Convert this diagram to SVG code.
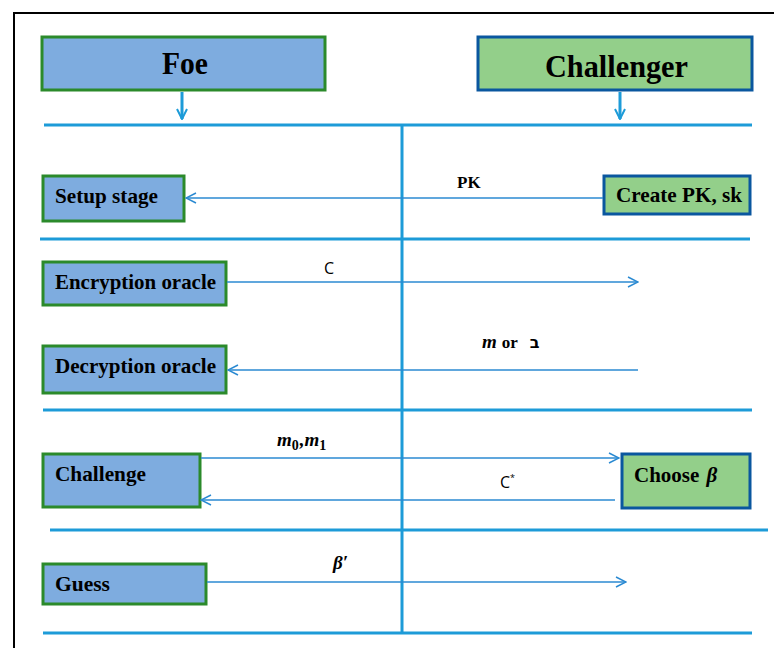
<svg xmlns="http://www.w3.org/2000/svg" width="774" height="648" viewBox="0 0 774 648">
<style>
.foe{fill:#7eacdf;stroke:#2b8a2b;stroke-width:3}
.ch{fill:#93cf8a;stroke:#0a579f;stroke-width:3}
.title{font-family:"Liberation Serif",serif;font-weight:bold;font-size:32px;fill:#000}
.lbl{font-family:"Liberation Serif",serif;font-weight:bold;font-size:21px;fill:#000}
.sep{stroke:#1d9bd8;stroke-width:3;fill:none}
.msg{stroke:#2b8ad2;stroke-width:1.5;fill:none}
.ml{font-family:"Liberation Serif",serif;font-weight:bold;font-size:17px;fill:#000}
.mi{font-family:"Liberation Serif",serif;font-weight:bold;font-style:italic;font-size:19px;fill:#000}
.cs{font-family:"Open Sans","DejaVu Sans",sans-serif;font-size:16px;fill:#000}
</style>
<defs>
<marker id="ah" viewBox="0 0 12 12" refX="11" refY="6" markerWidth="12" markerHeight="12" markerUnits="userSpaceOnUse" orient="auto">
<path d="M1,1 L11,6 L1,11" fill="none" stroke="#2b8ad2" stroke-width="1.5"/>
</marker>
<marker id="ahd" viewBox="0 0 12 12" refX="11" refY="6" markerWidth="12" markerHeight="12" markerUnits="userSpaceOnUse" orient="auto">
<path d="M1,1 L11,6 L1,11" fill="none" stroke="#1d9bd8" stroke-width="2"/>
</marker>
</defs>
<rect x="0" y="0" width="774" height="648" fill="#fff"/>
<rect x="14" y="13" width="800" height="700" fill="none" stroke="#000" stroke-width="2"/>

<g id="foe">
<rect class="foe" x="42" y="37" width="283" height="53"/>
<text class="title" x="162" y="74" textLength="46" lengthAdjust="spacingAndGlyphs">Foe</text>
</g>
<g id="challenger">
<rect class="ch" x="478" y="37" width="274" height="53"/>
<text class="title" x="545" y="77" textLength="143" lengthAdjust="spacingAndGlyphs">Challenger</text>
</g>
<g id="setup">
<rect class="foe" x="43" y="176" width="141" height="45"/>
<text class="lbl" x="55" y="203" textLength="103" lengthAdjust="spacingAndGlyphs">Setup stage</text>
</g>
<g id="create">
<rect class="ch" x="604" y="176" width="146" height="38"/>
<text class="lbl" x="616" y="202" textLength="126" lengthAdjust="spacingAndGlyphs">Create PK, sk</text>
</g>
<g id="enc">
<rect class="foe" x="43" y="262" width="183" height="43"/>
<text class="lbl" x="55" y="289" textLength="161" lengthAdjust="spacingAndGlyphs">Encryption oracle</text>
</g>
<g id="dec">
<rect class="foe" x="43" y="346" width="183" height="47"/>
<text class="lbl" x="55" y="373" textLength="161" lengthAdjust="spacingAndGlyphs">Decryption oracle</text>
</g>
<g id="challenge">
<rect class="foe" x="43" y="454" width="157" height="53"/>
<text class="lbl" x="55" y="481" textLength="91" lengthAdjust="spacingAndGlyphs">Challenge</text>
</g>
<g id="choose">
<rect class="ch" x="622" y="454" width="128" height="54"/>
<text class="lbl" x="634" y="482">Choose <tspan font-style="italic" dx="2">β</tspan></text>
</g>
<g id="guess">
<rect class="foe" x="43" y="564" width="163" height="40"/>
<text class="lbl" x="55" y="591" textLength="55" lengthAdjust="spacingAndGlyphs">Guess</text>
</g>

<g id="connectors">
<line class="sep" x1="182" y1="92" x2="182" y2="119" marker-end="url(#ahd)" stroke-width="2"/>
<line class="sep" x1="620" y1="92" x2="620" y2="119" marker-end="url(#ahd)" stroke-width="2"/>
<line class="sep" x1="44" y1="125" x2="752" y2="125"/>
<line class="sep" x1="402" y1="125" x2="402" y2="633"/>
<line class="sep" x1="40" y1="239" x2="750" y2="239"/>
<line class="sep" x1="43" y1="410" x2="752" y2="410"/>
<line class="sep" x1="50" y1="530" x2="768" y2="530"/>
<line class="sep" x1="43" y1="633" x2="752" y2="633"/>

<line class="msg" x1="603" y1="198" x2="186" y2="198" marker-end="url(#ah)"/>
<line class="msg" x1="227" y1="282" x2="638" y2="282" marker-end="url(#ah)"/>
<line class="msg" x1="638" y1="370" x2="228" y2="370" marker-end="url(#ah)"/>
<line class="msg" x1="201" y1="458" x2="619" y2="458" marker-end="url(#ah)"/>
<line class="msg" x1="615" y1="500" x2="201" y2="500" marker-end="url(#ah)"/>
<line class="msg" x1="207" y1="582" x2="626" y2="582" marker-end="url(#ah)"/>
</g>

<g id="labels">
<text class="ml" x="457" y="188">PK</text>
<text class="cs" x="324" y="274">C</text>
<text x="482" y="348"><tspan class="mi">m</tspan><tspan class="ml" font-size="15" dx="5">or</tspan><tspan font-family="'DejaVu Sans',sans-serif" font-weight="bold" font-size="16" dx="12">ב</tspan></text>
<text class="mi" x="277" y="446" font-size="21">m<tspan font-size="14" font-style="normal" dy="4">0</tspan><tspan dy="-4" dx="1">,m</tspan><tspan font-size="14" font-style="normal" dy="4">1</tspan></text>
<text class="cs" x="500" y="488">C<tspan font-size="9" dy="-7">*</tspan></text>
<text class="mi" x="333" y="569">β′</text>
</g>
</svg>
